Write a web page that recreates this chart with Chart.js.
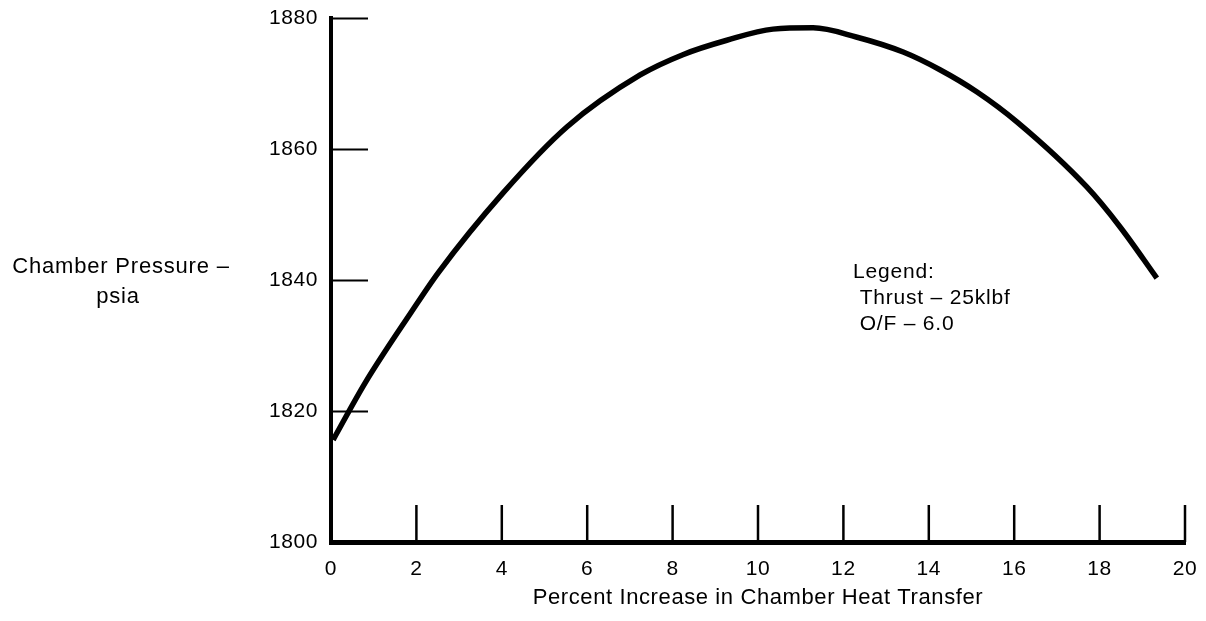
<!DOCTYPE html>
<html>
<head>
<meta charset="utf-8">
<script src="https://cdn.jsdelivr.net/npm/chart.js@4.4.1/dist/chart.umd.min.js"></script>
<style>
  html, body { margin: 0; padding: 0; background: #fff; }
  #wrap { width: 1206px; height: 621px; position: relative; }
</style>
</head>
<body>
<div id="wrap"><canvas id="c" width="1206" height="621"></canvas></div>
<script>
// Data
const heatIncrease = [0.05, 0.80, 1.87, 2.51, 4.03, 5.53, 7.24, 8.24, 9.27, 10.35, 11.29, 12.3, 13.40, 14.26, 15.13, 16.07, 17.70, 18.48, 19.34];
const chamberPressure = [1815.6, 1824.3, 1835.0, 1841.1, 1853.3, 1863.4, 1871.3, 1874.4, 1876.6, 1878.3, 1878.5, 1877.1, 1874.8, 1872.1, 1868.7, 1864.1, 1854.2, 1848.1, 1840.3];
const xTickValues = [0, 2, 4, 6, 8, 10, 12, 14, 16, 18, 20];
const yTickValues = [1800, 1820, 1840, 1860, 1880];
const yTitleLines = ['Chamber Pressure \u2013', 'psia'];
const xTitle = 'Percent Increase in Chamber Heat Transfer';
const legendLines = ['Legend:', ' Thrust \u2013 25klbf', ' O/F \u2013 6.0'];

const FONT = "'Liberation Sans', Arial, Helvetica, sans-serif";

const points = heatIncrease.map((x, i) => ({ x: x, y: chamberPressure[i] }));

const spacingPlugin = {
  id: 'spacing',
  beforeUpdate(chart) { chart.ctx.letterSpacing = '0.6px'; },
  beforeDraw(chart) { chart.ctx.letterSpacing = '0.6px'; }
};

const decorPlugin = {
  id: 'decor',
  afterDraw(chart) {
    const ctx = chart.ctx;
    const xs = chart.scales.x, ys = chart.scales.y;
    const area = chart.chartArea;
    ctx.save();
    ctx.strokeStyle = '#000';
    ctx.lineCap = 'butt';
    // inner tick marks on y axis
    ctx.lineWidth = 2;
    yTickValues.forEach(v => {
      if (v === ys.min) return;
      const py = Math.round(ys.getPixelForValue(v)) + 0.5;
      ctx.beginPath();
      ctx.moveTo(area.left, py);
      ctx.lineTo(area.left + 37, py);
      ctx.stroke();
    });
    // inner tick marks on x axis
    ctx.lineWidth = 2.5;
    xTickValues.forEach(v => {
      if (v === xs.min) return;
      const px = xs.getPixelForValue(v);
      ctx.beginPath();
      ctx.moveTo(px, area.bottom);
      ctx.lineTo(px, area.bottom - 37);
      ctx.stroke();
    });
    // y title (horizontal, two lines)
    ctx.fillStyle = '#000';
    ctx.letterSpacing = '0.8px';
    ctx.font = '22px ' + FONT;
    ctx.textAlign = 'center';
    ctx.textBaseline = 'alphabetic';
    ctx.fillText(yTitleLines[0], 121, 273);
    ctx.fillText(yTitleLines[1], 118, 303);
    // legend note
    ctx.font = '21px ' + FONT;
    ctx.textAlign = 'left';
    const lx = 853;
    const lyBase = [278, 304, 330];
    legendLines.forEach((t, i) => ctx.fillText(t, lx, lyBase[i]));
    ctx.restore();
  }
};

new Chart(document.getElementById('c'), {
  type: 'scatter',
  data: {
    datasets: [{
      data: points,
      showLine: true,
      borderColor: '#000',
      backgroundColor: '#000',
      borderWidth: 5.5,
      pointRadius: 0,
      cubicInterpolationMode: 'monotone',
      fill: false,
      clip: false
    }]
  },
  options: {
    responsive: false,
    animation: false,
    devicePixelRatio: 1,
    layout: { padding: { left: 0, top: 18, right: 21, bottom: 0 } },
    plugins: {
      legend: { display: false },
      tooltip: { enabled: false },
      title: { display: false }
    },
    scales: {
      x: {
        type: 'linear',
        min: 0, max: 20,
        afterBuildTicks(scale) { scale.ticks = xTickValues.map(v => ({ value: v })); },
        afterFit(scale) {
          scale.height = 79;
          scale.paddingLeft = 0; scale.paddingRight = 0;
        },
        grid: { display: false, drawTicks: false },
        border: { display: true, color: '#000', width: 5 },
        ticks: {
          color: '#000',
          padding: 15,
          font: { family: FONT, size: 21 },
          maxRotation: 0,
          autoSkip: false,
          callback: v => String(v)
        },
        title: {
          display: true,
          text: xTitle,
          color: '#000',
          font: { family: FONT, size: 22 },
          padding: { top: 0, bottom: 10 }
        }
      },
      y: {
        type: 'linear',
        min: 1800, max: 1880,
        afterBuildTicks(scale) { scale.ticks = yTickValues.map(v => ({ value: v })); },
        afterFit(scale) {
          scale.width = 331;
          scale.paddingTop = 0; scale.paddingBottom = 0;
        },
        grid: { display: false, drawTicks: false },
        border: { display: true, color: '#000', width: 4 },
        ticks: {
          color: '#000',
          padding: 13,
          font: { family: FONT, size: 21 },
          autoSkip: false,
          callback: v => String(v)
        }
      }
    }
  },
  plugins: [spacingPlugin, decorPlugin]
});
</script>
</body>
</html>
